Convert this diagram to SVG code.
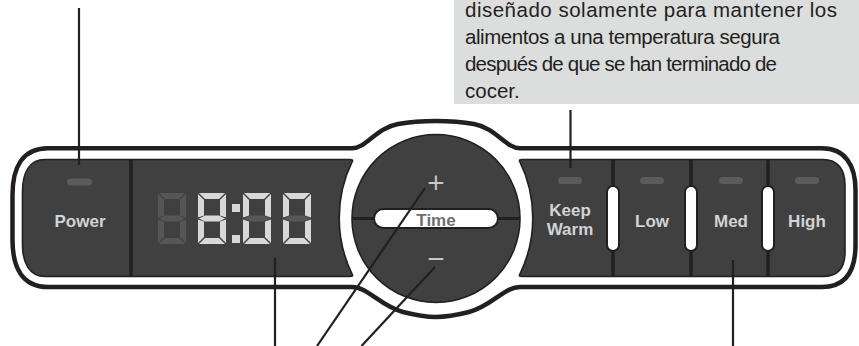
<svg xmlns="http://www.w3.org/2000/svg" xmlns:xlink="http://www.w3.org/1999/xlink" width="859" height="346" viewBox="0 0 859 346">
<style>
.outer{fill:#ffffff;stroke:#231f20;stroke-width:4.5;stroke-linejoin:round}
.panel{fill:#404040;stroke:#231f20;stroke-width:1.6}
.sep{stroke:#231f20;stroke-width:3.5}
.pill{fill:#ffffff;stroke:#231f20;stroke-width:2}
.led{fill:#5c5c5c}
.lbl{font-family:"Liberation Sans",Arial,sans-serif;font-weight:bold;font-size:17px;fill:#d1d3d4;text-anchor:middle}
.time{font-family:"Liberation Sans",Arial,sans-serif;font-weight:bold;font-size:17px;fill:#6d6e71;text-anchor:middle}
.sign{font-family:"DejaVu Sans",sans-serif;font-size:23px;fill:#c9c9c9;text-anchor:middle}
.note{font-family:"Liberation Sans",Arial,sans-serif;font-size:20.5px;fill:#231f20}
.lit{fill:#d8d8d8}
.dim{fill:#565656}
.lead{stroke:#231f20;stroke-width:2.2;fill:none}
</style>
<defs>
<g id="segs6">
<polygon points="1,0 27,0 21,6 7,6"/>
<polygon points="1,51 27,51 21,45 7,45"/>
<polygon points="0,1 6,7 6,22.5 0,24.5"/>
<polygon points="0,26.5 6,28.5 6,44 0,50"/>
<polygon points="28,1 22,7 22,22.5 28,24.5"/>
<polygon points="28,26.5 22,28.5 22,44 28,50"/>
</g>
<polygon id="segG" points="1,25.5 7,22.5 21,22.5 27,25.5 21,28.5 7,28.5"/>
</defs>

<g id="note">
<rect x="454" y="-5" width="410" height="109" fill="#dcdddd"/>
<text class="note" x="465" y="17" textLength="372" lengthAdjust="spacing">diseñado solamente para mantener los</text>
<text class="note" x="465" y="44" textLength="315" lengthAdjust="spacing">alimentos a una temperatura segura</text>
<text class="note" x="465" y="71" textLength="312" lengthAdjust="spacing">después de que se han terminado de</text>
<text class="note" x="465" y="98">cocer.</text>
</g>

<g id="panel-outline">
<path class="outer" d="M12.5,195 C12.5,168 22,148.3 48,148.3 L352,148.3 C366,148.3 376,128 398,124 C412,121.5 424,121 436,121 C448,121 460,121.5 474,124 C496,128 506,148.3 520,148.3 L822,148.3 C845,148.3 855.5,165 855.5,190 L855.5,245 C855.5,272 845,287 822,287 L520,287 C504,287 492,306 469,312 C457,315 447,317 436,317 C425,317 415,315 403,312 C380,306 368,287 352,287 L48,287 C22,287 12.5,267 12.5,240 Z"/>
<path class="panel" d="M45,159.5 L350,159.5 Q353,159.5 352.5,161 A129,129 0 0 0 352.5,275 Q353,276.5 350,276.5 L45,276.5 C29,276.5 22.5,262 22.5,245 L22.5,192 C22.5,173 29,159.5 45,159.5 Z"/>
<path class="panel" d="M522,159.5 L823,159.5 C838,159.5 845,170 845,185 L845,252 C845,268 838,276.5 823,276.5 L522,276.5 Q519,276.5 519.5,275 A129,129 0 0 0 519.5,161 Q519,159.5 522,159.5 Z"/>
</g>

<g id="power">
<line class="sep" x1="131" y1="159.5" x2="131" y2="276.5"/>
<rect class="led" x="67" y="178.5" width="25" height="7" rx="3.5"/>
<text class="lbl" x="80" y="227">Power</text>
</g>

<g id="display">
<use xlink:href="#segs6" x="158" y="193" class="dim"/>
<use xlink:href="#segG" x="158" y="193" class="dim"/>
<use xlink:href="#segs6" x="198" y="193" class="lit"/>
<use xlink:href="#segG" x="198" y="193" class="lit"/>
<rect class="lit" x="232" y="204" width="8" height="8"/>
<rect class="lit" x="232" y="235" width="8" height="8"/>
<use xlink:href="#segs6" x="243" y="193" class="lit"/>
<use xlink:href="#segG" x="243" y="193" class="dim"/>
<use xlink:href="#segs6" x="283" y="193" class="lit"/>
<use xlink:href="#segG" x="283" y="193" class="dim"/>
</g>

<g id="time-control">
<circle class="panel" cx="436" cy="218.5" r="84"/>
<line class="sep" x1="352" y1="218.5" x2="376" y2="218.5" style="stroke-width:3"/>
<line class="sep" x1="496" y1="218.5" x2="520" y2="218.5" style="stroke-width:3"/>
<rect class="pill" x="374" y="209" width="124" height="19" rx="9.5"/>
<text class="time" x="436" y="226">Time</text>
<text class="sign" x="436" y="190">+</text>
<text class="sign" x="436" y="266">−</text>
</g>

<g id="keep-warm">
<rect class="led" x="558" y="177" width="24" height="7" rx="3.5"/>
<text class="lbl" x="570" y="216">Keep</text>
<text class="lbl" x="570" y="234.5">Warm</text>
</g>

<g id="low">
<line class="sep" x1="613" y1="159.5" x2="613" y2="276.5"/>
<rect class="pill" x="607" y="186" width="12" height="65" rx="6"/>
<rect class="led" x="640" y="177" width="24" height="7" rx="3.5"/>
<text class="lbl" x="652" y="226.5">Low</text>
</g>

<g id="med">
<line class="sep" x1="691" y1="159.5" x2="691" y2="276.5"/>
<rect class="pill" x="685" y="186" width="12" height="65" rx="6"/>
<rect class="led" x="719" y="177" width="24" height="7" rx="3.5"/>
<text class="lbl" x="731" y="226.5">Med</text>
</g>

<g id="high">
<line class="sep" x1="768" y1="159.5" x2="768" y2="276.5"/>
<rect class="pill" x="762" y="186" width="12" height="65" rx="6"/>
<rect class="led" x="795" y="177" width="24" height="7" rx="3.5"/>
<text class="lbl" x="807" y="226.5">High</text>
</g>

<g id="connectors">
<line class="lead" x1="79" y1="8" x2="79" y2="165"/>
<line class="lead" x1="570.5" y1="110" x2="570.5" y2="168"/>
<line class="lead" x1="275" y1="258" x2="275" y2="346"/>
<line class="lead" x1="425" y1="188" x2="317" y2="346"/>
<line class="lead" x1="435" y1="267" x2="361.5" y2="346"/>
<line class="lead" x1="733" y1="260" x2="733" y2="346"/>
</g>
</svg>
